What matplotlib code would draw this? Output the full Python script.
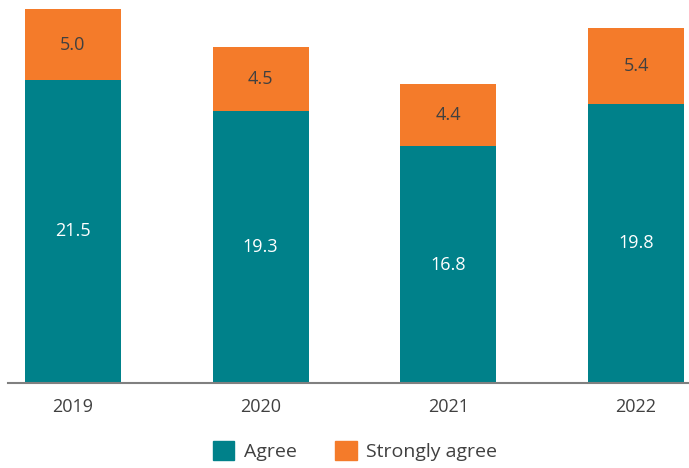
import matplotlib
matplotlib.use("Agg")
import matplotlib.pyplot as plt
from matplotlib.patches import Patch

years = ["2019", "2020", "2021", "2022"]
agree = [21.5, 19.3, 16.8, 19.8]
strongly = [5.0, 4.5, 4.4, 5.4]

teal = "#00818A"
orange = "#F47B2A"

plt.rcParams['font.family'] = ['Open Sans', 'DejaVu Sans']

fig = plt.figure(figsize=(6.89, 4.68), dpi=100)
ax = fig.add_axes([8/689, (468-383)/468, 1-8/689, 383/468])

x = list(range(len(years)))
w = 0.511
ax.bar(x, agree, width=w, color=teal)
ax.bar(x, strongly, width=w, bottom=agree, color=orange)

for xi, a, s in zip(x, agree, strongly):
    ax.text(xi, a/2, f"{a:.1f}", ha="center", va="center", color="white", fontsize=13)
    ax.text(xi, a + s/2, f"{s:.1f}", ha="center", va="center", color="#404040", fontsize=13)

ax.set_xlim(-0.346, 3.282)
ax.set_ylim(0, 383/14.1)
ax.set_xticks(x)
ax.set_xticklabels(years, fontsize=13, color="#404040")
ax.tick_params(axis="x", length=0, pad=11)
ax.set_yticks([])
for sp in ["top", "right", "left"]:
    ax.spines[sp].set_visible(False)
ax.spines["bottom"].set_color("#808080")
ax.spines["bottom"].set_linewidth(1.5)

handles = [Patch(color=teal, label="Agree"), Patch(color=orange, label="Strongly agree")]
fig.legend(handles=handles, loc="center", bbox_to_anchor=(355/689, 1-451/468), ncol=2,
           frameon=False, fontsize=14, handlelength=1.1, handleheight=1.1,
           columnspacing=2.0, handletextpad=0.5, labelcolor="#404040")

fig.savefig("out.png", dpi=100)
